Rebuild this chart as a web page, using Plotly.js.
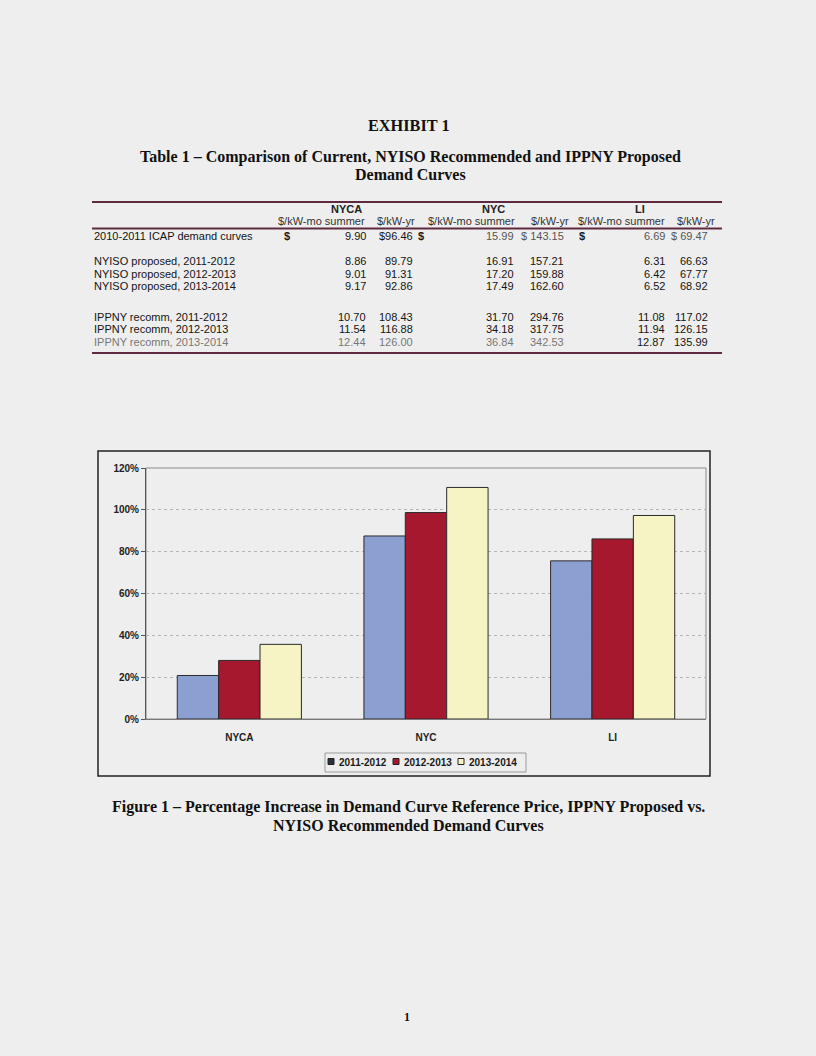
<!DOCTYPE html>
<html>
<head>
<meta charset="utf-8">
<script src="https://cdn.plot.ly/plotly-3.0.1.min.js"></script>
<style>
html,body{margin:0;padding:0;background:#eeeeee;}
#page{width:816px;height:1056px;}
</style>
</head>
<body>
<div id="page"></div>
<script>
// ---------- DATA ----------
var regions = ["NYCA", "NYC", "LI"];
var unitLabels = ["$/kW-mo summer", "$/kW-yr"];
var rowLabels = [
  "2010-2011 ICAP demand curves",
  "NYISO proposed, 2011-2012",
  "NYISO proposed, 2012-2013",
  "NYISO proposed, 2013-2014",
  "IPPNY recomm, 2011-2012",
  "IPPNY recomm, 2012-2013",
  "IPPNY recomm, 2013-2014"
];
var nycaMo = [9.90, 8.86, 9.01, 9.17, 10.70, 11.54, 12.44];
var nycaYr = [96.46, 89.79, 91.31, 92.86, 108.43, 116.88, 126.00];
var nycMo  = [15.99, 16.91, 17.20, 17.49, 31.70, 34.18, 36.84];
var nycYr  = [143.15, 157.21, 159.88, 162.60, 294.76, 317.75, 342.53];
var liMo   = [6.69, 6.31, 6.42, 6.52, 11.08, 11.94, 12.87];
var liYr   = [69.47, 66.63, 67.77, 68.92, 117.02, 126.15, 135.99];

var seriesNames = ["2011-2012", "2012-2013", "2013-2014"];
var pct2011 = [20.8, 87.5, 75.6];
var pct2012 = [28.0, 98.7, 86.1];
var pct2013 = [35.7, 110.7, 97.3];
var yTickVals = [0, 20, 40, 60, 80, 100, 120];
var yTickText = ["0%", "20%", "40%", "60%", "80%", "100%", "120%"];
var seriesColors = ['#8b9fd0', '#a5182e', '#f6f3c4'];
var legendSwatch = ['#2c3142', '#a5182e', '#f6f3c4'];

// ---------- LAYOUT HELPERS ----------
var W = 816, H = 1056;
function fx(px){ return px / W; }
function fy(py){ return 1 - py / H; }
var anns = [];
function ann(text, px, py, anchor, font){
  anns.push({text: text, x: fx(px), y: fy(py), xref: 'paper', yref: 'paper',
    xanchor: anchor || 'center', yanchor: 'middle', showarrow: false,
    borderpad: 0, font: font});
}
var serif = {family: '"Liberation Serif", "Times New Roman", serif', size: 16, color: '#111'};
var sans = function(sz, col){ return {family: '"Liberation Sans", Arial, sans-serif', size: sz, color: col || '#222'}; };

// Titles
ann("<b>EXHIBIT 1</b>", 409, 125, 'center', {family: serif.family, size: 16.3, color: '#111'});
ann("<b>Table 1 – Comparison of Current, NYISO Recommended and IPPNY Proposed</b>", 410, 157, 'center', serif);
ann("<b>Demand Curves</b>", 410, 174, 'center', serif);
ann("<b>Figure 1 – Percentage Increase in Demand Curve Reference Price, IPPNY Proposed vs.</b>", 408, 807, 'center', serif);
ann("<b>NYISO Recommended Demand Curves</b>", 408, 825, 'center', serif);
ann("<b>1</b>", 407, 1017, 'center', {family: serif.family, size: 12, color: '#111'});

// Table
var TF = 11;
var regCenters = [346, 494, 640];
var moRight = [367, 515, 666];
var yrRight = [414, 565, 709];
var unitMoLeft = [277, 427, 577];
var unitYrLeft = [376, 530, 676];
var dollarX = [283, 417, 578];
for (var r = 0; r < regions.length; r++){
  ann("<b>" + regions[r] + "</b>", regCenters[r], 209, 'center', sans(TF, '#222'));
  ann(unitLabels[0], unitMoLeft[r], 221, 'left', sans(TF, '#333'));
  ann(unitLabels[1], unitYrLeft[r], 221, 'left', sans(TF, '#333'));
}
var rowY = [236, 261, 274, 286, 317, 329, 342];
var moCols = [nycaMo, nycMo, liMo];
var yrCols = [nycaYr, nycYr, liYr];
for (var i = 0; i < rowLabels.length; i++){
  var last = (i === rowLabels.length - 1);
  var colLab = last ? '#777' : '#141414';
  ann(rowLabels[i], 93, rowY[i], 'left', sans(TF, colLab));
  for (var c = 0; c < 3; c++){
    var col = (last && c < 2) ? '#777' : ((i === 0 && c > 0) ? '#555' : '#141414');
    ann(moCols[c][i].toFixed(2), moRight[c], rowY[i], 'right', sans(TF, col));
    var yrTxt = (i === 0 ? (c === 0 ? "$" : "$ ") : "") + yrCols[c][i].toFixed(2);
    ann(yrTxt, yrRight[c], rowY[i], 'right', sans(TF, col));
    if (i === 0) ann("<b>$</b>", dollarX[c], rowY[i], 'left', sans(TF, '#1a1a1a'));
  }
}

var lineCol = '#5e2a3f';
var shapes = [
  {type: 'line', xref: 'paper', yref: 'paper', x0: fx(92), x1: fx(722), y0: fy(202), y1: fy(202), line: {color: lineCol, width: 2}},
  {type: 'line', xref: 'paper', yref: 'paper', x0: fx(92), x1: fx(722), y0: fy(228.5), y1: fy(228.5), line: {color: lineCol, width: 2}},
  {type: 'line', xref: 'paper', yref: 'paper', x0: fx(92), x1: fx(722), y0: fy(353), y1: fy(353), line: {color: lineCol, width: 2}},
  // chart outer frame
  {type: 'rect', xref: 'paper', yref: 'paper', x0: fx(98), x1: fx(710), y0: fy(451), y1: fy(776), line: {color: '#222', width: 1.5}},
  // plot area border
  {type: 'rect', xref: 'paper', yref: 'paper', x0: fx(146), x1: fx(706), y0: fy(468), y1: fy(719), line: {color: '#8a8a8a', width: 1}, layer: 'below'},
  // legend box
  {type: 'rect', xref: 'paper', yref: 'paper', x0: fx(325), x1: fx(526), y0: fy(753), y1: fy(772), line: {color: '#9a9a9a', width: 1}}
];

// custom compact legend (swatch + label per series)
var legSwX = [331, 396, 461];
var legTxX = [338, 403, 468];
for (var s = 0; s < seriesNames.length; s++){
  shapes.push({type: 'rect', xref: 'paper', yref: 'paper',
    x0: fx(legSwX[s] - 3), x1: fx(legSwX[s] + 3), y0: fy(758.5), y1: fy(764.5),
    fillcolor: legendSwatch[s], line: {color: '#222', width: 1}});
  ann("<b>" + seriesNames[s] + "</b>", legTxX[s], 762, 'left', sans(10, '#1a1a1a'));
}

var barLine = {color: '#2a2a2a', width: 1};
var traces = [
  {type: 'bar', name: seriesNames[0], x: regions, y: pct2011, marker: {color: seriesColors[0], line: barLine}},
  {type: 'bar', name: seriesNames[1], x: regions, y: pct2012, marker: {color: seriesColors[1], line: barLine}},
  {type: 'bar', name: seriesNames[2], x: regions, y: pct2013, marker: {color: seriesColors[2], line: barLine}}
];

var layout = {
  width: W, height: H,
  margin: {l: 0, r: 0, t: 0, b: 0},
  paper_bgcolor: '#eeeeee',
  plot_bgcolor: '#eeeeee',
  showlegend: false,
  barmode: 'group',
  bargap: 0.335,
  bargroupgap: 0,
  font: sans(9, '#222'),
  xaxis: {
    domain: [fx(146), fx(706)],
    anchor: 'y',
    type: 'category',
    range: [-0.5, 2.5],
    showgrid: false,
    showline: true, linecolor: '#777', linewidth: 1,
    ticks: '',
    tickfont: {family: '"Liberation Sans", Arial, sans-serif', size: 10, color: '#222', weight: 'bold'},
    ticklabelstandoff: 9
  },
  yaxis: {
    domain: [fy(719), fy(468)],
    anchor: 'x',
    range: [0, 120],
    tickvals: yTickVals,
    ticktext: yTickText,
    showgrid: true, gridcolor: '#b5b5b5', griddash: '3px,3px', gridwidth: 1,
    showline: true, linecolor: '#555', linewidth: 1,
    ticks: 'outside', ticklen: 4, tickcolor: '#555',
    zeroline: false,
    tickfont: {family: '"Liberation Sans", Arial, sans-serif', size: 10, color: '#222', weight: 'bold'}
  },
  annotations: anns,
  shapes: shapes
};

Plotly.newPlot('page', traces, layout, {displayModeBar: false, staticPlot: true});
</script>
</body>
</html>
